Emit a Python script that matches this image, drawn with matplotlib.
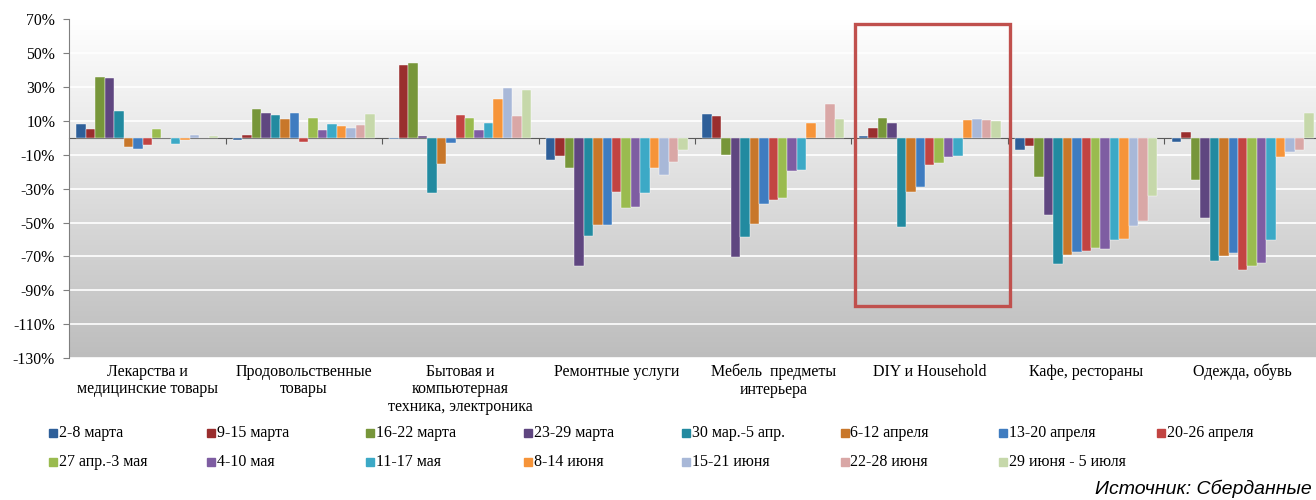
import numpy as np
import matplotlib
matplotlib.use("Agg")
import matplotlib.pyplot as plt
from matplotlib.patches import Rectangle

plt.rcParams['font.family'] = ['Liberation Serif', 'DejaVu Serif']

categories = [
    "Лекарства и\nмедицинские товары",
    "Продовольственные\nтовары",
    "Бытовая и\nкомпьютерная\nтехника, электроника",
    "Ремонтные услуги",
    "Мебель  предметы\nинтерьера",
    "DIY и Household",
    "Кафе, рестораны",
    "Одежда, обувь",
]

weeks = [
    "2-8 марта", "9-15 марта", "16-22 марта", "23-29 марта",
    "30 мар.-5 апр.", "6-12 апреля", "13-20 апреля", "20-26 апреля",
    "27 апр.-3 мая", "4-10 мая", "11-17 мая", "8-14 июня",
    "15-21 июня", "22-28 июня", "29 июня - 5 июля",
]

# one list per category, values in % for each week
medicine = [8.5, 5.1, 35.8, 35.2, 15.6, -5.1, -6.7, -4.4, 5.3, 0.0, -3.6, -1.2, 1.8, -0.2, 1.4]
food = [-1.4, 2.0, 16.8, 15.0, 13.3, 11.1, 14.8, -2.4, 11.9, 4.5, 8.5, 7.3, 6.1, 7.9, 14.2]
electronics = [-0.8, 42.9, 44.1, 1.4, -32.6, -15.6, -3.0, 13.8, 11.5, 4.7, 8.9, 23.1, 29.7, 12.9, 28.1]
repair = [-12.9, -10.5, -17.6, -75.4, -57.8, -51.2, -51.2, -31.7, -41.3, -40.6, -32.6, -18.0, -22.0, -14.2, -7.1]
furniture = [14.2, 13.1, -10.1, -70.6, -58.8, -51.0, -38.8, -36.6, -35.4, -19.6, -19.2, 9.1, 0.0, 19.8, 11.3]
diy = [1.4, 6.1, 11.7, 9.1, -52.8, -32.0, -28.9, -15.8, -14.8, -11.3, -10.5, 10.7, 11.1, 10.7, 9.9]
cafe = [-6.9, -4.5, -23.3, -45.3, -74.4, -69.4, -67.1, -66.7, -65.3, -65.5, -60.5, -59.5, -52.0, -49.1, -34.2]
clothes = [-2.6, 3.6, -25.1, -47.5, -72.6, -69.6, -68.1, -77.9, -75.6, -73.8, -60.1, -11.5, -8.1, -7.1, 14.8]

colors = [
    "#2E5F99", "#9A2E2E", "#77963A", "#5F4680", "#228AA0",
    "#C8772A", "#3F7CC0", "#C24442", "#9ABB4F", "#7E5DA2",
    "#3CA9C6", "#F69439", "#A8B8D8", "#D9A7A6", "#C6D8AA",
]

data = np.array([medicine, food, electronics, repair, furniture, diy, cafe, clothes])

fig = plt.figure(figsize=(13.16, 5.0), dpi=100)
ax = fig.add_axes([69 / 1316, 1 - 358 / 500, 1252 / 1316, 338.6 / 500])

ymin, ymax = -130, 70
ax.set_xlim(-0.5, len(categories) - 0.5)
ax.set_ylim(ymin, ymax)

# background gradient, white at top to gray at bottom
grad = np.linspace(255, 189, 256)[:, None] / 255.0
grad = np.repeat(grad, 2, axis=1)
ax.imshow(np.dstack([grad, grad, grad]), extent=(-0.5, len(categories) - 0.5, ymin, ymax),
          aspect='auto', zorder=0, interpolation='bilinear')

x = np.arange(len(categories))
w = 0.0607
for j, wk in enumerate(weeks):
    ax.bar(x + (j - 7) * w, data[:, j], width=w, color=colors[j],
           edgecolor='white', linewidth=0.3, zorder=3, label=wk)

ax.set_yticks(np.arange(ymin, ymax + 1, 20))
ax.set_yticklabels([f"{v}%" for v in range(ymin, ymax + 1, 20)], fontsize=11.3)
ax.yaxis.grid(True, color='white', linewidth=1.2, zorder=1)
ax.set_axisbelow(True)
ax.tick_params(axis='y', direction='out', length=4, color='#7F7F7F', pad=6)

ax.set_xticks(x)
ax.set_xticklabels(categories, fontsize=11.5, linespacing=1.15, va='top')
ax.tick_params(axis='x', length=0, pad=4)

for s in ['top', 'right', 'bottom']:
    ax.spines[s].set_visible(False)
ax.spines['left'].set_color('#7F7F7F')

# zero line with category separators
sec = ax.secondary_xaxis(0.65)
sec.set_xticks(np.arange(0.5, len(categories) - 0.5, 1.0))
sec.set_xticklabels([])
sec.xaxis.set_ticks_position('bottom')
sec.tick_params(direction='out', length=4, color='#595959')
sec.spines['bottom'].set_color('#595959')
sec.spines['top'].set_color('#595959')

# highlight DIY
ax.add_patch(Rectangle((4.525, -99), 0.99, 166.5, fill=False,
                       edgecolor='#C0504D', linewidth=2.4, zorder=5, clip_on=False))

# legend laid out in two rows like the original
for j, wk in enumerate(weeks):
    col, row = j % 8, j // 8
    px = 49 + col * 158.3
    py = 433 + row * 29
    fig.patches.append(Rectangle((px / 1316, 1 - (py + 4) / 500), 8 / 1316, 8 / 500,
                                 transform=fig.transFigure, color=colors[j]))
    fig.text((px + 10) / 1316, 1 - py / 500, wk, fontsize=11.5, va='center', ha='left')

fig.text(1312 / 1316, 1 - 489 / 500, "Источник: Сберданные", fontsize=14,
         family=['Liberation Sans', 'DejaVu Sans'], style='italic', va='center', ha='right')

fig.savefig("out.png", dpi=100)
